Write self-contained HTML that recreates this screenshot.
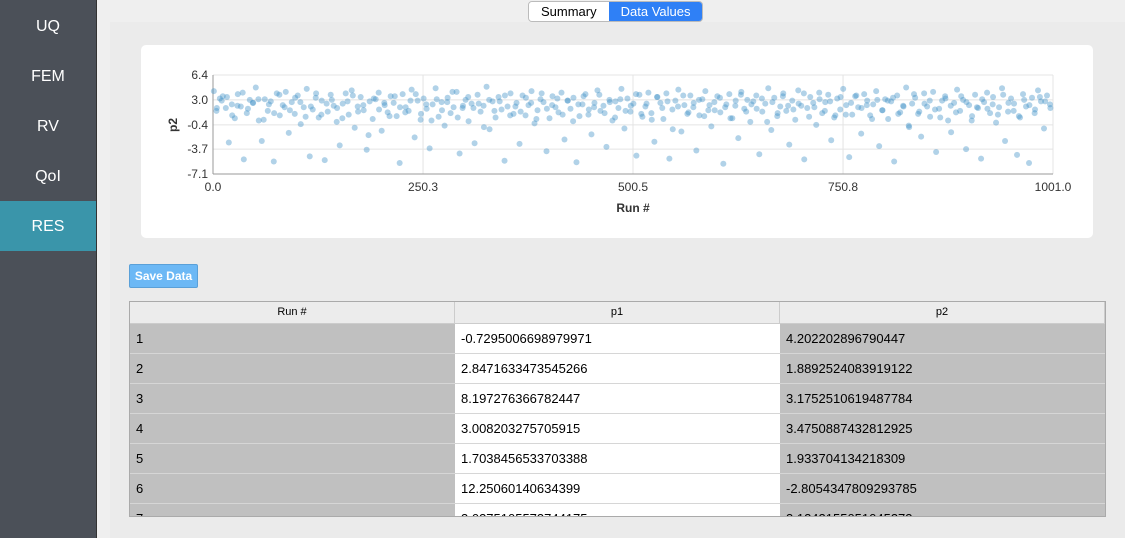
<!DOCTYPE html>
<html><head><meta charset="utf-8"><style>
body{margin:0;width:1125px;height:538px;overflow:hidden;background:#efefef;font-family:"Liberation Sans",sans-serif;position:relative}
#side{position:absolute;left:0;top:0;width:97px;height:538px;background:#4b5058;border-right:1px solid #333;padding-top:1px;box-sizing:border-box}
.mi{height:50px;line-height:52px;text-align:center;color:#fff;font-size:16px}
.mi.act{background:#3a95aa}
#tabs{position:absolute;left:528px;top:1px;height:19px;display:flex;font-size:13px;border:1px solid #bbb;border-radius:4px;overflow:hidden}
#tabs div{padding:0 12px;line-height:19px}
#panel{position:absolute;left:110px;top:22px;width:1015px;height:516px;background:#ebebeb}
#card{position:absolute;left:141px;top:45px;width:952px;height:193px;background:#fff;border-radius:5px}
#save{position:absolute;left:129px;top:264px;width:67px;height:22px;background:#6cb8f5;border:1px solid #5aa0d8;border-radius:2px;color:#fff;font-weight:bold;font-size:12px;line-height:22px;text-align:center}
#tbl{position:absolute;left:129px;top:301px;width:975px;height:214px;border:1px solid #aaa;overflow:hidden;background:#fff}
.row{display:flex;height:29px;border-bottom:1px solid #d6d6d6;font-size:13px}
.row div{width:325px;line-height:29px;padding-left:6px;box-sizing:border-box}
.row div:nth-child(1),.row div:nth-child(3){background:#c0c0c0}
.hd{display:flex;height:21px;background:#ececec;font-size:11px;border-bottom:1px solid #ccc}
.hd div{width:325px;text-align:center;line-height:21px;border-right:1px solid #ccc;box-sizing:border-box}
</style></head><body>
<div id="side">
<div class="mi">UQ</div>
<div class="mi">FEM</div>
<div class="mi">RV</div>
<div class="mi">QoI</div>
<div class="mi act">RES</div>
</div>
<div id="tabs">
<div style="background:#fff">Summary</div>
<div style="background:#2f80f6;color:#fff">Data Values</div>
</div>
<div id="panel"></div>
<div id="card"></div>
<svg id="chart" width="1125" height="260" style="position:absolute;left:0;top:0"></svg>
<div id="save">Save Data</div>
<div id="tbl">
<div class="hd"><div>Run #</div><div>p1</div><div>p2</div></div>
<div class="row"><div>1</div><div style="background:#fff">-0.7295006698979971</div><div>4.202202896790447</div></div>
<div class="row"><div>2</div><div style="background:#fff">2.8471633473545266</div><div>1.8892524083919122</div></div>
<div class="row"><div>3</div><div style="background:#fff">8.197276366782447</div><div>3.1752510619487784</div></div>
<div class="row"><div>4</div><div style="background:#fff">3.008203275705915</div><div>3.4750887432812925</div></div>
<div class="row"><div>5</div><div style="background:#fff">1.7038456533703388</div><div>1.933704134218309</div></div>
<div class="row"><div>6</div><div style="background:#fff">12.25060140634399</div><div>-2.8054347809293785</div></div>
<div class="row"><div>7</div><div style="background:#fff">3.0375105573744175</div><div>3.1242155051045373</div></div>
</div>
<script>
const xTicks=[0.0,250.3,500.5,750.8,1001.0];
const yTicks=[6.4,3.0,-0.4,-3.7,-7.1];
const p2=[4.2,1.9,3.2,3.5,1.9,-2.8,2.4,0.5,3.8,2.1,-5.1,1.2,3.0,2.6,4.7,0.2,-2.6,3.1,1.5,2.8,-5.4,3.9,0.9,2.3,4.1,-1.5,2.7,1.1,3.6,-0.3,2.0,4.5,-4.7,1.7,3.3,0.6,2.9,-5.2,1.4,3.7,2.2,0.0,-3.2,2.5,3.9,1.0,4.3,-0.8,2.1,3.4,1.6,-3.8,2.8,0.4,3.1,4.0,-1.2,2.3,1.3,3.5,
2.6,0.8,-5.6,3.8,2.0,1.5,4.4,-2.1,2.9,0.3,3.2,1.8,-3.6,2.4,4.6,0.7,2.7,-0.5,3.3,1.2,2.0,4.1,-4.3,1.9,3.0,0.1,2.5,-2.9,3.7,1.4,2.2,4.8,-1.0,2.8,0.6,3.4,1.7,-5.3,2.1,3.9,
1.1,2.6,-3.0,3.6,0.9,2.3,4.2,-0.2,1.6,3.1,2.7,-4.0,0.5,3.5,2.0,1.3,4.0,-2.4,2.9,1.8,3.3,-5.5,0.8,2.4,3.8,1.0,-1.7,2.6,4.3,1.5,2.2,-3.4,3.0,0.2,2.8,1.9,4.5,-0.9,3.2,1.4,
2.5,-4.6,3.7,0.7,2.1,4.0,1.2,-2.7,3.4,2.6,0.4,3.9,-5.0,1.7,2.9,4.4,-1.3,2.3,1.1,3.6,2.0,-3.9,0.9,3.1,4.2,1.6,-0.6,2.7,3.5,1.3,-5.7,2.4,3.8,0.5,2.2,-2.2,4.1,1.8,3.0,0.0,
2.8,3.6,-4.4,1.4,2.5,4.6,-1.1,3.3,0.8,2.1,3.9,1.5,-3.1,2.9,0.3,4.3,2.2,-5.1,1.9,3.4,2.6,-0.4,4.0,1.2,2.7,3.7,-2.5,0.6,3.2,1.7,4.5,2.3,-4.8,1.0,3.5,2.0,-1.6,3.8,2.9,0.9,
2.4,4.2,-3.3,1.6,3.1,0.4,2.8,-5.4,3.6,1.3,2.2,4.7,-0.7,2.5,3.3,1.1,-2.0,3.9,2.1,0.7,4.1,-4.1,1.8,2.9,3.5,0.2,-1.4,2.6,4.4,1.5,3.0,-3.7,2.3,0.8,3.7,1.9,-5.0,2.7,4.0,1.2,
3.4,-0.1,2.0,4.6,-2.6,1.4,3.2,2.5,-4.5,0.6,3.8,2.1,-5.6,3.3,1.7,4.3,2.8,-0.9,3.6,2.4];
const p2b=[1.5,2.9,3.4,0.9,2.2,4.0,1.8,2.6,3.1,0.3,2.4,1.2,3.7,2.0,1.6,3.3,2.7,0.7,2.1,3.9,1.0,2.5,3.0,1.9,0.5,2.8,3.6,1.4,2.3,-1.8,3.2,1.7,2.6,0.8,3.5,2.0,1.3,2.9,3.8,1.1,
2.4,0.2,3.1,1.6,2.7,4.1,0.6,2.2,3.4,1.9,2.5,-0.7,3.0,1.5,2.8,3.6,0.9,2.1,1.4,3.3,2.6,0.4,3.9,1.8,2.3,3.2,1.0,2.9,0.1,2.4,3.5,1.7,2.0,3.7,1.2,2.7,0.6,3.1,1.5,2.2,
3.8,1.1,2.5,0.3,3.4,1.9,2.8,-1.0,2.1,3.6,1.3,2.6,3.0,0.8,2.3,1.6,3.3,2.0,0.5,2.9,3.7,1.4,2.4,1.8,3.2,0.0,2.7,1.2,3.5,2.2,1.7,2.5,3.9,0.7,2.0,3.1,1.5,2.8,0.9,3.4,
1.0,2.6,3.6,1.9,2.3,0.4,3.0,1.6,2.9,3.3,1.1,2.1,-0.5,3.8,1.4,2.5,2.9,1.7,0.6,3.2,2.2,1.3,3.5,2.7,0.2,2.0,3.1,1.8,2.4,1.0,3.7,2.6,1.5,0.8,3.0,2.3,1.2,3.4,2.8,1.9];
const svg=document.getElementById('chart');
const NS='http://www.w3.org/2000/svg';
const X0=213,X1=1053,Y0=75,Y1=174;
const xs=v=>X0+(v-xTicks[0])/(xTicks[4]-xTicks[0])*(X1-X0);
const ys=v=>Y1-(v-yTicks[4])/(yTicks[0]-yTicks[4])*(Y1-Y0);
function mk(t,a){const e=document.createElementNS(NS,t);for(const k in a)e.setAttribute(k,a[k]);svg.appendChild(e);return e;}
xTicks.forEach(t=>{const l=mk('line',{x1:xs(t),x2:xs(t),y1:Y0,y2:Y1,stroke:'#e4e4e4'});


const tx=mk('text',{x:xs(t),y:Y1+17,'text-anchor':'middle','font-size':'12','fill':'#333','font-family':'Liberation Sans'});tx.textContent=t.toFixed(1);

});
yTicks.forEach(t=>{const l=mk('line',{x1:X0,x2:X1,y1:ys(t),y2:ys(t),stroke:'#e4e4e4'});


const tx=mk('text',{x:X0-5,y:ys(t)+4,'text-anchor':'end','font-size':'12','fill':'#333','font-family':'Liberation Sans'});tx.textContent=t.toFixed(1);

});
const ax=mk('line',{x1:X0,x2:X1,y1:Y1,y2:Y1,stroke:'#999'});


const ay=mk('line',{x1:X0,x2:X0,y1:Y0,y2:Y1,stroke:'#999'});


function plot(arr,off){const n=arr.length;
arr.forEach((v,i)=>{const run=1+(i+off)*(1000/n);
const c=mk('circle',{cx:xs(Math.min(run,1001)),cy:ys(v),r:3,fill:'#3b8fc6','fill-opacity':0.4});

});}
plot(p2,0);plot(p2b,0.5);
const xt=mk('text',{x:(X0+X1)/2,y:212,'text-anchor':'middle','font-size':'12','font-weight':'bold','fill':'#333','font-family':'Liberation Sans'});xt.textContent='Run #';


const yt=mk('text',{x:177,y:125,'text-anchor':'middle','font-size':'12','font-weight':'bold','fill':'#333','font-family':'Liberation Sans',transform:'rotate(-90 177 125)'});yt.textContent='p2';


</script>
</body></html>
